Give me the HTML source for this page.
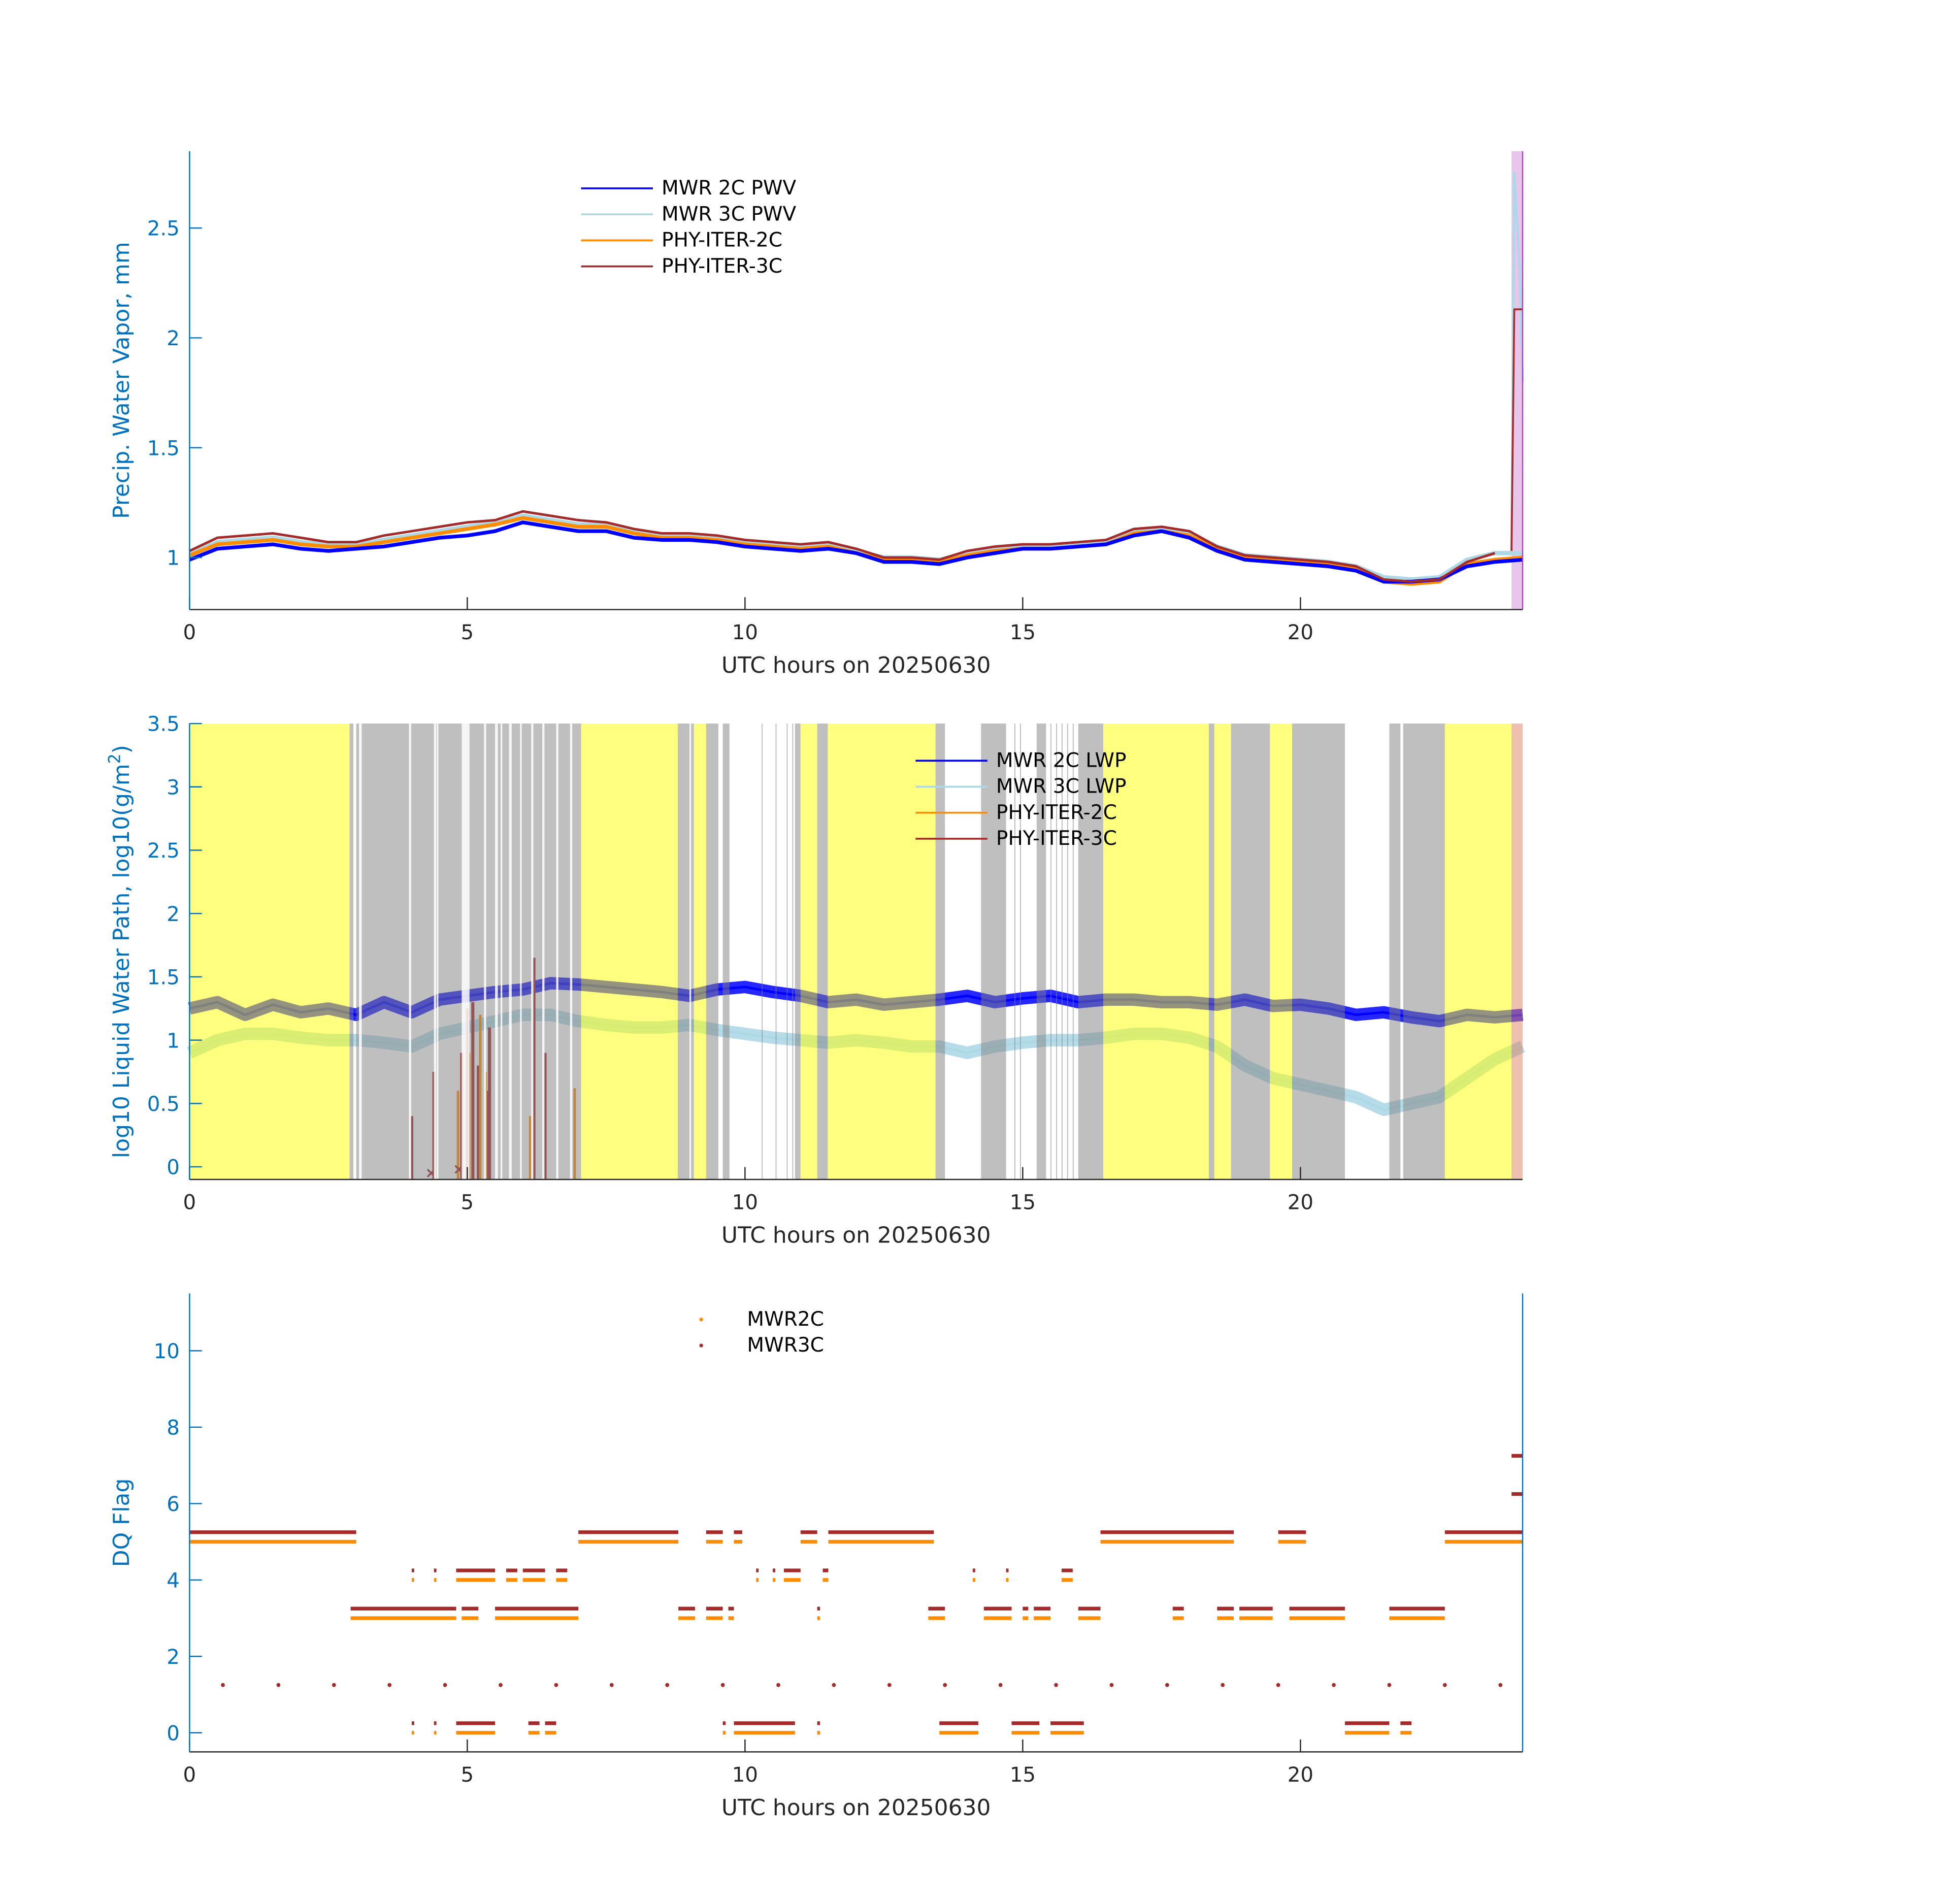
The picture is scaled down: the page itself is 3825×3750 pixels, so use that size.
<!DOCTYPE html>
<html><head><meta charset="utf-8"><style>
html,body{margin:0;padding:0;background:#fff;}
svg{display:block;font-family:"DejaVu Sans","Liberation Sans",sans-serif;}
</style></head><body>
<svg id="chart" width="3825" height="3750" viewBox="0 0 1567.5 1536.8" preserveAspectRatio="none" xmlns="http://www.w3.org/2000/svg"></svg>
<script>
// ---------- data ----------
const hours = [0,0.5,1,1.5,2,2.5,3,3.5,4,4.5,5,5.5,6,6.5,7,7.5,8,8.5,9,9.5,10,10.5,11,11.5,12,12.5,13,13.5,14,14.5,15,15.5,16,16.5,17,17.5,18,18.5,19,19.5,20,20.5,21,21.5,22,22.5,23,23.5,24];
const pwv2c = [0.99,1.04,1.05,1.06,1.04,1.03,1.04,1.05,1.07,1.09,1.10,1.12,1.16,1.14,1.12,1.12,1.09,1.08,1.08,1.07,1.05,1.04,1.03,1.04,1.02,0.98,0.98,0.97,1.00,1.02,1.04,1.04,1.05,1.06,1.10,1.12,1.09,1.03,0.99,0.98,0.97,0.96,0.94,0.89,0.89,0.90,0.96,0.98,0.99];
const pwv3c = [1.02,1.07,1.08,1.09,1.07,1.06,1.06,1.08,1.10,1.12,1.14,1.16,1.19,1.17,1.15,1.15,1.12,1.10,1.10,1.09,1.07,1.06,1.05,1.06,1.03,1.00,1.00,0.99,1.02,1.04,1.05,1.05,1.06,1.07,1.12,1.13,1.11,1.05,1.01,1.00,0.99,0.98,0.96,0.91,0.90,0.91,0.99,1.02,1.80];
const phy2c = [1.01,1.06,1.07,1.08,1.06,1.05,1.05,1.07,1.09,1.11,1.13,1.15,1.18,1.16,1.14,1.14,1.11,1.09,1.09,1.08,1.06,1.05,1.04,1.05,1.02,0.99,0.99,0.98,1.01,1.03,1.04,1.04,1.05,1.06,1.11,1.12,1.10,1.04,1.00,0.99,0.98,0.97,0.95,0.89,0.88,0.89,0.97,0.99,1.00];
const phy3c = [1.03,1.09,1.10,1.11,1.09,1.07,1.07,1.10,1.12,1.14,1.16,1.17,1.21,1.19,1.17,1.16,1.13,1.11,1.11,1.10,1.08,1.07,1.06,1.07,1.04,1.00,1.00,0.99,1.03,1.05,1.06,1.06,1.07,1.08,1.13,1.14,1.12,1.05,1.01,1.00,0.99,0.98,0.96,0.90,0.89,0.90,0.98,1.02,2.13];
const pwvSpikeHour = [23.8, 23.85, 23.95, 24];
const pwvSpike3c = [1.03, 2.75, 2.3, 1.8];
const phySpike3c = [1.03, 2.13, 2.13, 2.13];

const lwp2c = [1.25,1.3,1.2,1.28,1.22,1.25,1.2,1.3,1.22,1.32,1.35,1.38,1.4,1.45,1.44,1.42,1.4,1.38,1.35,1.4,1.42,1.38,1.35,1.3,1.32,1.28,1.3,1.32,1.35,1.3,1.33,1.35,1.3,1.32,1.32,1.3,1.3,1.28,1.32,1.27,1.28,1.25,1.2,1.22,1.18,1.15,1.2,1.18,1.2];
const lwp3c = [0.9,1.0,1.05,1.05,1.02,1.0,1.0,0.98,0.95,1.05,1.1,1.15,1.2,1.2,1.15,1.12,1.1,1.1,1.12,1.08,1.05,1.02,1.0,0.98,1.0,0.98,0.95,0.95,0.9,0.95,0.98,1.0,1.0,1.02,1.05,1.05,1.02,0.95,0.8,0.7,0.65,0.6,0.55,0.45,0.5,0.55,0.7,0.85,0.95];
const spike3cHour = [4.0,4.4,4.9,5.0,5.1,5.2,5.35,5.4,6.2,6.4];
const spike3cTop = [0.4,0.75,0.9,1.25,1.3,0.8,0.6,1.1,1.65,0.9];
const spike2cHour = [4.8,5.0,5.2,5.3,6.1,6.9];
const spike2cTop = [0.6,0.9,1.2,0.75,0.4,0.62];
const crossHour = [4.35,4.85];
const crossVal = [-0.05,-0.02];
// flag bands: start, end, type (y=yellow, g=gray, s=salmon)
const bandStart = [0,2.88,3.0,7.05,8.79,9.08,9.3,9.6,10.9,11.0,11.3,11.49,13.43,14.25,15.25,16.0,16.45,18.35,18.45,18.75,19.45,19.85,21.6,21.85,22.6,23.8];
const bandEnd   = [2.88,2.95,7.05,8.79,9.08,9.3,9.52,9.72,11.0,11.3,11.49,13.43,13.6,14.7,15.42,16.45,18.35,18.45,18.75,19.45,19.85,20.8,21.8,22.6,23.8,24];
const bandType  = ['y','g','g','y','g','y','g','g','g','y','g','y','g','g','g','g','y','g','y','g','y','g','g','g','y','s'];
// thin white gaps within gray regions, and thin gray lines within white regions
const gapHour = [3.05,3.95,4.4,4.45,4.9,5.0,5.3,5.5,5.6,5.75,5.95,6.15,6.35,6.6,6.85,9.0];
const gapWidth = [0.05,0.04,0.04,0.03,0.1,0.04,0.04,0.05,0.03,0.05,0.03,0.04,0.04,0.04,0.04,0.03];
const lineHour = [10.3,10.55,10.75,10.85,14.85,14.95,15.5,15.6,15.7,15.8,15.9];

// DQ runs: start, end, value
const dq2cStart = [0,7.0,9.3,9.8,11.0,11.5,16.4,19.6,22.6, 2.9,4.9,5.5,8.8,9.3,9.7,11.3,13.3,14.3,15.0,15.2,16.0,17.7,18.5,18.9,19.8,21.6, 4.0,4.4,4.8,5.7,6.0,6.6,10.2,10.5,10.7,11.4,14.1,14.7,15.7, 4.0,4.4,4.8,6.1,6.4,9.6,9.8,11.3,13.5,14.8,15.5,20.8,21.8];
const dq2cEnd   = [3.0,8.8,9.6,9.95,11.3,13.4,18.8,20.1,24, 4.8,5.2,7.0,9.1,9.6,9.8,11.35,13.6,14.8,15.1,15.5,16.4,17.9,18.8,19.5,20.8,22.6, 4.03,4.43,5.5,5.9,6.4,6.8,10.23,10.53,11.0,11.5,14.13,14.73,15.9, 4.03,4.43,5.5,6.3,6.6,9.65,10.9,11.35,14.2,15.3,16.1,21.6,22.0];
const dq2cValue = [5,5,5,5,5,5,5,5,5, 3,3,3,3,3,3,3,3,3,3,3,3,3,3,3,3,3, 4,4,4,4,4,4,4,4,4,4,4,4,4, 0,0,0,0,0,0,0,0,0,0,0,0,0];
const dq3cHourly = [0.6,1.6,2.6,3.6,4.6,5.6,6.6,7.6,8.6,9.6,10.6,11.6,12.6,13.6,14.6,15.6,16.6,17.6,18.6,19.6,20.6,21.6,22.6,23.6];
const dq3cExtraStart = [23.8,23.8];
const dq3cExtraEnd = [24,24];
const dq3cExtraValue = [6.25,7.25];

// ---------- helpers ----------
const NS='http://www.w3.org/2000/svg';
const svg=document.getElementById('chart');
function mk(tag,attrs,parent){const e=document.createElementNS(NS,tag);for(const k in attrs)e.setAttribute(k,attrs[k]);(parent||svg).appendChild(e);return e;}
const X0=153,X1=1229;
function xs(h){return X0+(h/24)*(X1-X0);}
function yAxis(top,bot,vmin,vmax){return v=>bot-(v-vmin)/(vmax-vmin)*(bot-top);}
const y1=yAxis(122,492,0.763,2.85);
const y2=yAxis(584,952,-0.1,3.5);
const y3=yAxis(1044,1414,-0.5,11.5);
const BLUE='#0072BD';

function xAxis(bot,top,id){
  const g=mk('g',{});
  
  
  mk('line',{x1:X0,y1:bot,x2:X1,y2:bot,stroke:'#262626','stroke-width':1},g);
  [0,5,10,15,20].forEach(t=>{
    mk('line',{x1:xs(t),y1:bot,x2:xs(t),y2:bot-10,stroke:'#262626','stroke-width':1},g);
    const tx=mk('text',{x:xs(t),y:bot+24,'text-anchor':'middle','font-size':16.5,fill:'#262626'},g);tx.textContent=t;
  });
  const l=mk('text',{x:(X0+X1)/2,y:bot+51,'text-anchor':'middle','font-size':18,fill:'#262626'},g);
  l.textContent='UTC hours on 20250630';
  
  
}
function yTicks(top,bot,ticks,fn,labels,id,title){
  const g=mk('g',{});
  
  
  mk('line',{x1:X0,y1:top,x2:X0,y2:bot,stroke:BLUE,'stroke-width':1},g);
  ticks.forEach((t,i)=>{
    mk('line',{x1:X0,y1:fn(t),x2:X0+10,y2:fn(t),stroke:BLUE,'stroke-width':1},g);
    const tx=mk('text',{x:X0-8,y:fn(t)+6,'text-anchor':'end','font-size':16.5,fill:BLUE},g);tx.textContent=labels[i];
  });
  const cy=(top+bot)/2;
  const l=mk('text',{x:104,y:cy,'text-anchor':'middle','font-size':18,fill:BLUE,transform:`rotate(-90 104 ${cy})`},g);
  l.innerHTML=title;
  
  
}
function poly(hs,vs,fn,color,w,name,op){
  const p=mk('polyline',{points:hs.map((h,i)=>xs(h)+','+fn(vs[i])).join(' '),fill:'none',stroke:color,'stroke-width':w,'stroke-linejoin':'round',opacity:op||1});
  
  
  return p;
}
function legend(x,y,items,name){
  const g=mk('g',{});
  
  
  items.forEach((it,i)=>{
    const yy=y+i*21;
    if(it.dot){mk('circle',{cx:x+28,cy:yy,r:1.5,fill:it.c},g);}
    else mk('line',{x1:x,y1:yy,x2:x+58,y2:yy,stroke:it.c,'stroke-width':1.5},g);
    const t=mk('text',{x:x+65,y:yy+5,'font-size':16,fill:'#000'},g);t.textContent=it.t;
    
    
  });
}

// ---------- panel 1 ----------
const shade=mk('rect',{x:xs(23.8),y:122,width:xs(24)-xs(23.8),height:370,fill:'#d9a0e0',opacity:0.6});


poly(hours,pwv3c.slice(0,48).concat([pwv3c[47]]),y1,'#ADD8E6',3.5,'mwr-3c-pwv-line');
poly(pwvSpikeHour,pwvSpike3c,y1,'#ADD8E6',2,'mwr-3c-pwv-spike');
poly(hours,phy2c,y1,'#FF8C00',3,'phy-iter-2c-line');
poly(hours,pwv2c,y1,'#0000FF',3,'mwr-2c-pwv-line');
poly(hours.slice(0,48),phy3c.slice(0,48),y1,'#A52A2A',2,'phy-iter-3c-line');
poly(pwvSpikeHour,phySpike3c,y1,'#A52A2A',1.5,'phy-iter-3c-spike');
mk('line',{x1:X1,y1:122,x2:X1,y2:492,stroke:'#b040c0','stroke-width':1});
xAxis(492,122,'pwv');
yTicks(122,492,[1,1.5,2,2.5],y1,['1','1.5','2','2.5'],'pwv','Precip. Water Vapor, mm');
legend(469,152,[{c:'#0000FF',t:'MWR 2C PWV'},{c:'#ADD8E6',t:'MWR 3C PWV'},{c:'#FF8C00',t:'PHY-ITER-2C'},{c:'#A52A2A',t:'PHY-ITER-3C'}],'pwv-legend');

// ---------- panel 2 ----------
poly(hours,lwp3c,y2,'#ADD8E6',10,'mwr-3c-lwp-band',0.9);
poly(hours,lwp3c,y2,'#ADD8E6',2,'mwr-3c-lwp-line');
poly(hours,lwp2c,y2,'#0000FF',10,'mwr-2c-lwp-band',0.85);
poly(hours,lwp2c,y2,'#0000FF',2,'mwr-2c-lwp-line');
spike3cHour.forEach((h,i)=>{
  const l=mk('line',{x1:xs(h),y1:y2(-0.1),x2:xs(h),y2:y2(spike3cTop[i]),stroke:'#A52A2A','stroke-width':2.5});
  
  
});
spike2cHour.forEach((h,i)=>{
  const l=mk('line',{x1:xs(h)+1.5,y1:y2(-0.1),x2:xs(h)+1.5,y2:y2(spike2cTop[i]),stroke:'#FF8C00','stroke-width':2});
  
  
});
crossHour.forEach((h,i)=>{
  const cx=xs(h),cy=y2(crossVal[i]);
  const p=mk('path',{d:`M${cx-3} ${cy-3}L${cx+3} ${cy+3}M${cx-3} ${cy+3}L${cx+3} ${cy-3}`,stroke:'#A52A2A','stroke-width':1.5});
  
  
});
const bandColor={y:'#FFFF00',g:'#808080',s:'#E08060'};
bandStart.forEach((s,i)=>{
  const r=mk('rect',{x:xs(s),y:584,width:Math.max(0.5,xs(bandEnd[i])-xs(s)),height:368,fill:bandColor[bandType[i]],opacity:0.5});
  
  
});
gapHour.forEach((h,i)=>{
  const r=mk('rect',{x:xs(h),y:584,width:xs(gapWidth[i])-xs(0),height:368,fill:'#ffffff',opacity:0.85});
  
  
});
lineHour.forEach(h=>{
  const r=mk('rect',{x:xs(h),y:584,width:0.8,height:368,fill:'#808080',opacity:0.5});
  
  
});
xAxis(952,584,'lwp');
yTicks(584,952,[0,0.5,1,1.5,2,2.5,3,3.5],y2,['0','0.5','1','1.5','2','2.5','3','3.5'],'lwp','log10 Liquid Water Path, log10(g/m<tspan dy="-7" font-size="13">2</tspan><tspan dy="7">)</tspan>');
legend(739,614,[{c:'#0000FF',t:'MWR 2C LWP'},{c:'#ADD8E6',t:'MWR 3C LWP'},{c:'#FF8C00',t:'PHY-ITER-2C'},{c:'#A52A2A',t:'PHY-ITER-3C'}],'lwp-legend');

// ---------- panel 3 ----------
function run(s,e,v,color,off,name){
  const l=mk('line',{x1:xs(s),y1:y3(v+off),x2:Math.max(xs(e),xs(s)+2),y2:y3(v+off),stroke:color,'stroke-width':3});
  
  
}
dq2cStart.forEach((s,i)=>run(s,dq2cEnd[i],dq2cValue[i],'#FF8C00',0,'mwr2c-dq-run'));
dq2cStart.forEach((s,i)=>run(s,dq2cEnd[i],dq2cValue[i],'#A52A2A',0.25,'mwr3c-dq-run'));
dq3cHourly.forEach(h=>{
  const c=mk('circle',{cx:xs(h),cy:y3(1.25),r:1.6,fill:'#A52A2A'});
  
  
});
dq3cExtraStart.forEach((s,i)=>run(s,dq3cExtraEnd[i],dq3cExtraValue[i],'#A52A2A',0,'mwr3c-dq-run'));
mk('line',{x1:X1,y1:1044,x2:X1,y2:1414,stroke:BLUE,'stroke-width':1});
xAxis(1414,1044,'dq');
yTicks(1044,1414,[0,2,4,6,8,10],y3,['0','2','4','6','8','10'],'dq','DQ Flag');
legend(538,1065,[{c:'#FF8C00',t:'MWR2C',dot:1},{c:'#A52A2A',t:'MWR3C',dot:1}],'dq-legend');
</script>
</body></html>
